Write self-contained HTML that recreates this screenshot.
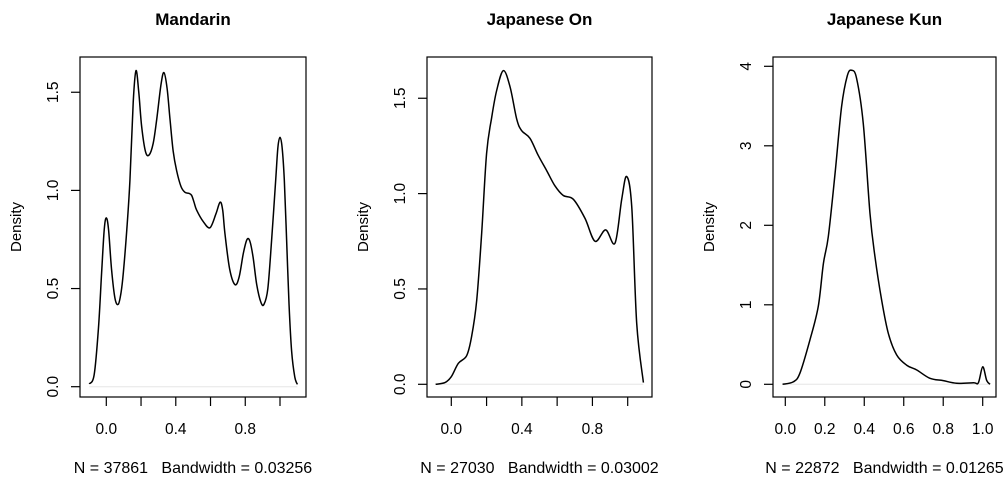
<!DOCTYPE html>
<html><head><meta charset="utf-8"><style>
html,body{margin:0;padding:0;background:#fff;}
svg{display:block;font-family:"Liberation Sans",Arial,sans-serif;}
</style></head><body>
<svg id="chart" width="1005" height="480" viewBox="0 0 1005 480"></svg>
<script>
const titles = ["Mandarin", "Japanese On", "Japanese Kun"];
const subtitles = ["N = 37861   Bandwidth = 0.03256", "N = 27030   Bandwidth = 0.03002", "N = 22872   Bandwidth = 0.01265"];
const xTicks = [[0,0.2,0.4,0.6,0.8,1.0],[0,0.2,0.4,0.6,0.8,1.0],[0,0.2,0.4,0.6,0.8,1.0]];
const xTickLabels = [["0.0","","0.4","","0.8",""],["0.0","","0.4","","0.8",""],["0.0","0.2","0.4","0.6","0.8","1.0"]];
const yTicks = [[0,0.5,1.0,1.5],[0,0.5,1.0,1.5],[0,1,2,3,4]];
const yTickLabels = [["0.0","0.5","1.0","1.5"],["0.0","0.5","1.0","1.5"],["0","1","2","3","4"]];
const mandarinX = [-0.098,-0.07,-0.045,-0.027,-0.012,0,0.013,0.03,0.05,0.069,0.085,0.098,0.118,0.136,0.155,0.171,0.187,0.203,0.225,0.246,0.27,0.29,0.315,0.332,0.35,0.367,0.385,0.405,0.43,0.453,0.475,0.491,0.505,0.52,0.559,0.597,0.631,0.655,0.67,0.683,0.71,0.741,0.765,0.789,0.81,0.827,0.845,0.866,0.89,0.908,0.93,0.952,0.975,0.988,1.0,1.012,1.025,1.038,1.052,1.067,1.085,1.1];
const mandarinY = [0.014,0.06,0.3,0.58,0.8,0.86,0.8,0.6,0.45,0.42,0.48,0.58,0.8,1.05,1.45,1.61,1.5,1.33,1.2,1.18,1.24,1.36,1.54,1.6,1.52,1.36,1.2,1.1,1.02,0.99,0.985,0.975,0.94,0.9,0.84,0.81,0.88,0.94,0.9,0.78,0.6,0.52,0.56,0.68,0.75,0.74,0.66,0.52,0.43,0.42,0.5,0.75,1.05,1.22,1.27,1.22,1.05,0.75,0.42,0.18,0.05,0.012];
const onX = [-0.089,-0.036,0,0.04,0.087,0.115,0.144,0.172,0.2,0.229,0.257,0.295,0.333,0.371,0.399,0.446,0.493,0.541,0.588,0.635,0.692,0.758,0.815,0.875,0.928,0.966,0.994,1.023,1.051,1.089];
const onY = [0,0.009,0.04,0.11,0.15,0.25,0.44,0.79,1.21,1.40,1.54,1.645,1.56,1.39,1.33,1.29,1.20,1.12,1.04,0.99,0.97,0.87,0.75,0.81,0.74,0.97,1.09,0.93,0.32,0.009];
const kunX = [-0.014,0.04,0.074,0.125,0.167,0.193,0.218,0.252,0.285,0.314,0.336,0.361,0.395,0.429,0.454,0.488,0.522,0.564,0.615,0.666,0.733,0.8,0.868,0.953,0.978,1.0,1.02,1.037];
const kunY = [0,0.03,0.14,0.56,0.98,1.52,1.86,2.65,3.49,3.88,3.95,3.85,3.28,2.15,1.61,1.06,0.64,0.37,0.24,0.18,0.075,0.046,0.013,0.02,0.02,0.22,0.05,0];
const seriesX = [mandarinX, onX, kunX];
const seriesY = [mandarinY, onY, kunY];

const boxes = [{l:80,r:306,t:57,b:397,x0:106.3,x1:280,y0:386.7,ppu:196.3},
               {l:427,r:652,t:57,b:397,x0:451.3,x1:627.7,y0:384.3,ppu:190.7},
               {l:773,r:996,t:57,b:397,x0:785.3,x1:982.7,y0:384.3,ppu:79.5}];
const NS="http://www.w3.org/2000/svg";
const svg=document.getElementById('chart');
function mk(tag,attrs,parent){const e=document.createElementNS(NS,tag);for(const k in attrs)e.setAttribute(k,attrs[k]);(parent||svg).appendChild(e);return e;}
function smooth(pts){let d=`M${pts[0][0].toFixed(2)},${pts[0][1].toFixed(2)}`;
 for(let i=0;i<pts.length-1;i++){const p0=pts[Math.max(0,i-1)],p1=pts[i],p2=pts[i+1],p3=pts[Math.min(pts.length-1,i+2)];
  const c1=[p1[0]+(p2[0]-p0[0])/6,p1[1]+(p2[1]-p0[1])/6],c2=[p2[0]-(p3[0]-p1[0])/6,p2[1]-(p3[1]-p1[1])/6];
  d+=`C${c1[0].toFixed(2)},${c1[1].toFixed(2)} ${c2[0].toFixed(2)},${c2[1].toFixed(2)} ${p2[0].toFixed(2)},${p2[1].toFixed(2)}`;}
 return d;}
boxes.forEach((bx,i)=>{
 const sx=v=>bx.x0+(bx.x1-bx.x0)*v, sy=v=>bx.y0-v*bx.ppu;
 const g=mk('g',{});
 
 
 const cx=(bx.l+bx.r)/2;
 const t=mk('text',{x:cx,y:25,'text-anchor':'middle','font-size':'17','font-weight':'bold'},g);t.textContent=titles[i];
 
 
 const st=mk('text',{x:cx,y:473,'text-anchor':'middle','font-size':'16',style:'white-space:pre'},g);st.textContent=subtitles[i];
 
 
 const yl=mk('text',{x:0,y:0,'text-anchor':'middle','font-size':'15',transform:`translate(${bx.l-59},${(bx.t+bx.b)/2}) rotate(-90)`},g);yl.textContent='Density';
 
 
 mk('line',{x1:sx(seriesX[i][0]),x2:sx(seriesX[i][seriesX[i].length-1]),y1:sy(0),y2:sy(0),stroke:'#e6e6e6','stroke-width':1},g);
 const fr=mk('rect',{x:bx.l,y:bx.t,width:bx.r-bx.l,height:bx.b-bx.t,fill:'none',stroke:'#000','stroke-width':1.2},g);
 
 
 xTicks[i].forEach((v,j)=>{mk('line',{x1:sx(v),x2:sx(v),y1:bx.b,y2:bx.b+9,stroke:'#000','stroke-width':1.2},g);
  if(xTickLabels[i][j]){const tl=mk('text',{x:sx(v),y:434,'text-anchor':'middle','font-size':'15.5'},g);tl.textContent=xTickLabels[i][j];
   
   }});
 yTicks[i].forEach((v,j)=>{mk('line',{x1:bx.l-9,x2:bx.l,y1:sy(v),y2:sy(v),stroke:'#000','stroke-width':1.2},g);
  const tl=mk('text',{x:0,y:0,'text-anchor':'middle','font-size':'15.5',transform:`translate(${bx.l-22},${sy(v)}) rotate(-90)`},g);tl.textContent=yTickLabels[i][j];
  
  });
 const pts=seriesX[i].map((x,k)=>[sx(x),sy(seriesY[i][k])]);
 const p=mk('path',{d:smooth(pts),fill:'none',stroke:'#000','stroke-width':1.5},g);
 
 
});
</script>
</body></html>
